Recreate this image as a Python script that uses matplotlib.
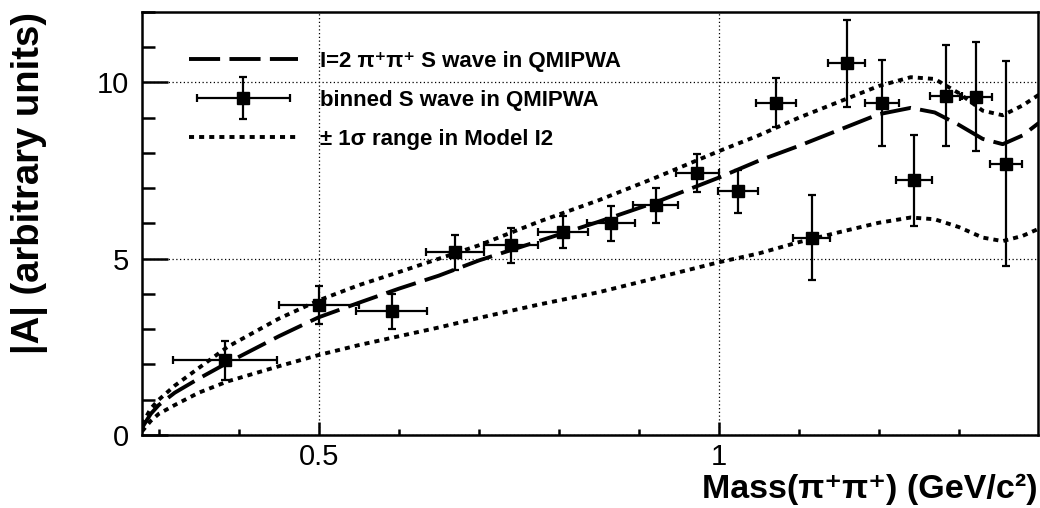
import numpy as np
import matplotlib
matplotlib.use("Agg")
import matplotlib.pyplot as plt
from matplotlib.container import ErrorbarContainer
from matplotlib.legend_handler import HandlerErrorbar
from matplotlib.ticker import MultipleLocator, FixedLocator

plt.rcParams["font.family"] = ["Liberation Sans", "DejaVu Sans"]

# binned S wave (QMIPWA)
mass = [0.383, 0.50, 0.591, 0.67, 0.74, 0.805, 0.865, 0.921, 0.973, 1.024,
        1.071, 1.116, 1.16, 1.204, 1.244, 1.284, 1.321, 1.359]
amp = [2.12, 3.68, 3.51, 5.18, 5.38, 5.75, 6.0, 6.52, 7.42, 6.91,
       9.43, 5.6, 10.54, 9.43, 7.22, 9.63, 9.6, 7.7]
amp_err = [0.55, 0.54, 0.5, 0.5, 0.5, 0.45, 0.5, 0.5, 0.54, 0.6,
           0.7, 1.2, 1.23, 1.22, 1.28, 1.42, 1.54, 2.9]
mass_err = [0.065, 0.05, 0.044, 0.036, 0.034, 0.031, 0.03, 0.028, 0.027, 0.025,
            0.025, 0.023, 0.023, 0.021, 0.022, 0.02, 0.02, 0.02]

# I=2 curve and +-1 sigma band
m_curve = [0.279, 0.29, 0.30, 0.32, 0.35, 0.386, 0.45, 0.50, 0.55, 0.60, 0.65,
           0.70, 0.775, 0.85, 0.921, 1.00, 1.05, 1.10, 1.15, 1.20, 1.24, 1.27,
           1.30, 1.33, 1.355, 1.38, 1.40]
a_central = [0.2, 0.6, 0.85, 1.2, 1.6, 2.05, 2.8, 3.34, 3.75, 4.15, 4.52,
             4.95, 5.5, 6.05, 6.6, 7.3, 7.78, 8.2, 8.65, 9.1, 9.28, 9.15,
             8.8, 8.4, 8.25, 8.5, 8.85]
a_upper = [0.3, 0.75, 1.0, 1.4, 1.9, 2.5, 3.3, 3.82, 4.25, 4.62, 5.0,
           5.38, 6.05, 6.66, 7.3, 8.05, 8.5, 9.0, 9.45, 9.9, 10.15, 10.1,
           9.7, 9.2, 9.07, 9.35, 9.65]
a_lower = [0.1, 0.4, 0.6, 0.85, 1.2, 1.52, 1.95, 2.27, 2.55, 2.8, 3.05,
           3.32, 3.7, 4.05, 4.45, 4.9, 5.15, 5.47, 5.75, 6.02, 6.17, 6.12,
           5.9, 5.6, 5.5, 5.65, 5.85]

fig = plt.figure(figsize=(10.4, 5.08), dpi=100)
ax = fig.add_axes([0.1365, 0.1437, 0.8615, 0.8327])

h_central, = ax.plot(m_curve, a_central, color="black", lw=2.8, dashes=(8, 2.4))
h_points = ax.errorbar(mass, amp, yerr=amp_err, xerr=mass_err, fmt="s",
                       color="black", ms=9, elinewidth=1.6, capsize=3,
                       capthick=1.6)
h_band, = ax.plot(m_curve, a_upper, color="black", lw=2.8, dashes=(1.3, 1.3))
ax.plot(m_curve, a_lower, color="black", lw=2.8, dashes=(1.3, 1.3))

ax.set_xlim(0.279, 1.399)
ax.set_ylim(0, 12)

ax.xaxis.set_major_locator(FixedLocator([0.5, 1.0]))
ax.xaxis.set_minor_locator(MultipleLocator(0.1))
ax.set_xticklabels(["0.5", "1"])
ax.yaxis.set_major_locator(MultipleLocator(5))
ax.yaxis.set_minor_locator(MultipleLocator(1))

ax.grid(True, which="major", color="black", lw=0.9, ls=(0, (1, 2)))
for s in ax.spines.values():
    s.set_linewidth(1.8)
ax.tick_params(axis="both", which="both", direction="in", width=1.8,
               labelsize=21)
ax.tick_params(axis="y", which="major", length=19, pad=9)
ax.tick_params(axis="y", which="minor", length=9.5)
ax.tick_params(axis="x", which="major", length=9.5, pad=6)
ax.tick_params(axis="x", which="minor", length=4.5)

ax.set_xlabel("Mass(π⁺π⁺) (GeV/c²)", fontsize=24.5, fontweight="bold",
              loc="right", labelpad=2)
ax.set_ylabel("|A| (arbitrary units)", fontsize=27.5, fontweight="bold",
              loc="top")
ax.yaxis.set_label_coords(-0.105, 1.0)

leg = ax.legend([h_central, h_points, h_band],
                ["I=2 π⁺π⁺ S wave in QMIPWA", "binned S wave in QMIPWA",
                 "± 1σ range in Model I2"],
                loc="upper left", bbox_to_anchor=(0.03, 0.955), frameon=False,
                prop={"size": 16, "weight": "bold"}, handlelength=4.9,
                handletextpad=1.0, labelspacing=0.8,
                handler_map={ErrorbarContainer: HandlerErrorbar(xerr_size=2.1, yerr_size=0.95)})

fig.savefig("out.png", dpi=100)
